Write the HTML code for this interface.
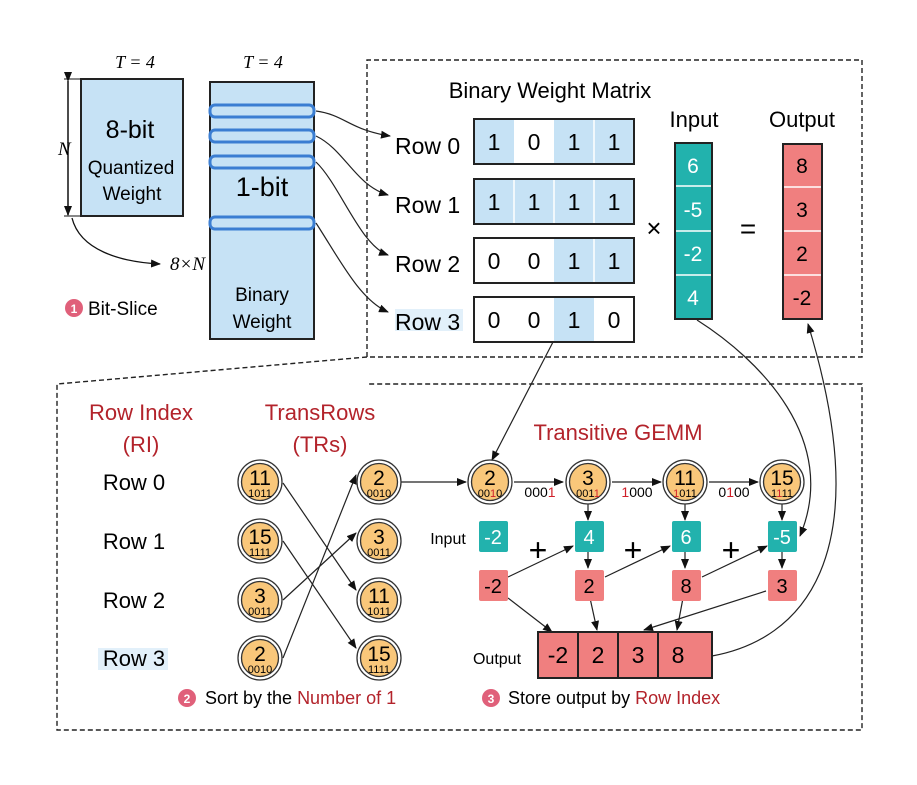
<!DOCTYPE html>
<html><head><meta charset="utf-8"><style>
html,body{margin:0;padding:0;background:#fff}
svg{display:block;font-family:"Liberation Sans",sans-serif}
</style></head><body>
<svg width="917" height="785" viewBox="0 0 917 785" xmlns="http://www.w3.org/2000/svg">
<defs>
<marker id="a" markerWidth="10" markerHeight="8" refX="9" refY="4" orient="auto" markerUnits="userSpaceOnUse"><path d="M0,0 L10,4 L0,8 Z" fill="#111"/></marker>
</defs>
<rect width="917" height="785" fill="#fff"/>
<g fill="none" stroke="#222" stroke-width="1.4" stroke-dasharray="5,3">
<path d="M367,357 L367,60 L862,60 L862,357 L367,357"/>
<path d="M367,357 L57,384 L57,730 L862,730 L862,384 L368,384"/>
</g>
<text x="135" y="68" font-family="Liberation Serif" font-style="italic" font-size="18" text-anchor="middle">T = 4</text>
<text x="263" y="68" font-family="Liberation Serif" font-style="italic" font-size="18" text-anchor="middle">T = 4</text>
<rect x="81" y="79" width="102" height="137" fill="#c6e2f5" stroke="#222" stroke-width="2"/>
<text x="130" y="138" font-size="25" text-anchor="middle">8-bit</text>
<text x="131" y="174" font-size="19" text-anchor="middle">Quantized</text>
<text x="132" y="200" font-size="19" text-anchor="middle">Weight</text>
<line x1="68" y1="81" x2="68" y2="215" stroke="#111" stroke-width="1.5" marker-start="url(#a)" marker-end="url(#a)"/>
<line x1="64" y1="79" x2="80" y2="79" stroke="#111"/><line x1="64" y1="216" x2="80" y2="216" stroke="#111"/>
<text x="58" y="155" font-family="Liberation Serif" font-style="italic" font-size="19">N</text>
<path d="M72,218 C80,250 120,262 160,264" fill="none" stroke="#111" stroke-width="1.3" marker-end="url(#a)"/>
<text x="170" y="270" font-family="Liberation Serif" font-style="italic" font-size="19">8×N</text>
<circle cx="74" cy="308" r="9" fill="#e0607a"/><text x="74" y="313" font-size="12" fill="#fff" text-anchor="middle" font-weight="bold">1</text>
<text x="88" y="315" font-size="19">Bit-Slice</text>
<rect x="210" y="82" width="104" height="257" fill="#c6e2f5" stroke="#222" stroke-width="2"/>
<g fill="none" stroke="#3b7ed2" stroke-width="3">
<rect x="210" y="105" width="104" height="12" rx="5"/>
<rect x="210" y="130" width="104" height="12" rx="5"/>
<rect x="210" y="156" width="104" height="12" rx="5"/>
<rect x="210" y="217" width="104" height="12" rx="5"/>
</g>
<text x="262" y="196" font-size="27" text-anchor="middle">1-bit</text>
<text x="262" y="301" font-size="19" text-anchor="middle">Binary</text>
<text x="262" y="328" font-size="19" text-anchor="middle">Weight</text>
<g fill="none" stroke="#222" stroke-width="1.2" marker-end="url(#a)">
<path d="M316,111 C345,115 350,130 390,136"/>
<path d="M316,136 C345,150 355,185 388,195"/>
<path d="M316,162 C340,185 360,245 388,255"/>
<path d="M316,223 C340,260 360,300 388,312"/>
</g>
<text x="550" y="98" font-size="22" text-anchor="middle">Binary Weight Matrix</text>
<g font-size="23">
<text x="395" y="154">Row 0</text><text x="395" y="213">Row 1</text><text x="395" y="272">Row 2</text>
<rect x="395" y="309" width="68" height="22" fill="#e2f0fa"/><text x="395" y="330">Row 3</text>
</g>
<g fill="#c6e2f5">
<rect x="474" y="119" width="40" height="45"/><rect x="554" y="119" width="80" height="45"/>
<rect x="474" y="179" width="160" height="45"/>
<rect x="554" y="238" width="80" height="45"/>
<rect x="554" y="297" width="40" height="45"/>
</g>
<g stroke="#fff" stroke-width="1.5">
<line x1="514" y1="179" x2="514" y2="224"/><line x1="554" y1="179" x2="554" y2="224"/><line x1="594" y1="179" x2="594" y2="224"/>
<line x1="594" y1="119" x2="594" y2="164"/><line x1="594" y1="238" x2="594" y2="283"/>
</g>
<g fill="none" stroke="#222" stroke-width="2">
<rect x="474" y="119" width="160" height="45"/><rect x="474" y="179" width="160" height="45"/>
<rect x="474" y="238" width="160" height="45"/><rect x="474" y="297" width="160" height="45"/>
</g>
<g font-size="23" text-anchor="middle">
<text x="494" y="150">1</text><text x="534" y="150">0</text><text x="574" y="150">1</text><text x="614" y="150">1</text>
<text x="494" y="210">1</text><text x="534" y="210">1</text><text x="574" y="210">1</text><text x="614" y="210">1</text>
<text x="494" y="269">0</text><text x="534" y="269">0</text><text x="574" y="269">1</text><text x="614" y="269">1</text>
<text x="494" y="328">0</text><text x="534" y="328">0</text><text x="574" y="328">1</text><text x="614" y="328">0</text>
</g>
<text x="654" y="237" font-size="26" text-anchor="middle">×</text>
<text x="748" y="238" font-size="28" text-anchor="middle">=</text>
<text x="694" y="127" font-size="22" text-anchor="middle">Input</text>
<text x="802" y="127" font-size="22" text-anchor="middle">Output</text>
<rect x="675" y="143" width="37" height="176" fill="#22b2ad" stroke="#222" stroke-width="2"/>
<g stroke="#fff" stroke-width="1.5"><line x1="676" y1="186" x2="711" y2="186"/><line x1="676" y1="231" x2="711" y2="231"/><line x1="676" y1="275" x2="711" y2="275"/></g>
<g font-size="21" fill="#fff" text-anchor="middle"><text x="693" y="173">6</text><text x="693" y="217">-5</text><text x="693" y="261">-2</text><text x="693" y="305">4</text></g>
<rect x="783" y="144" width="39" height="175" fill="#f07f7f" stroke="#222" stroke-width="2"/>
<g stroke="#fff" stroke-width="1.5"><line x1="784" y1="187" x2="821" y2="187"/><line x1="784" y1="231" x2="821" y2="231"/><line x1="784" y1="275" x2="821" y2="275"/></g>
<g font-size="21" text-anchor="middle"><text x="802" y="173">8</text><text x="802" y="217">3</text><text x="802" y="261">2</text><text x="802" y="305">-2</text></g>
<g fill="#b3232b" font-size="22" text-anchor="middle">
<text x="141" y="420">Row Index</text><text x="141" y="452">(RI)</text>
<text x="320" y="420">TransRows</text><text x="320" y="452">(TRs)</text>
<text x="618" y="440">Transitive GEMM</text>
</g>
<g font-size="22" text-anchor="middle">
<text x="134" y="490">Row 0</text><text x="134" y="549">Row 1</text><text x="134" y="608">Row 2</text>
<rect x="98" y="648" width="70" height="22" fill="#e2f0fa"/><text x="134" y="666">Row 3</text>
</g>
<g fill="none" stroke="#222" stroke-width="1.2" marker-end="url(#a)">
<line x1="283" y1="483" x2="356" y2="590"/>
<line x1="283" y1="541" x2="356" y2="648"/>
<line x1="283" y1="600" x2="356" y2="533"/>
<line x1="283" y1="658" x2="356" y2="475"/>
<line x1="401" y1="482" x2="466" y2="482"/>
<line x1="514" y1="482" x2="563" y2="482"/>
<line x1="612" y1="482" x2="661" y2="482"/>
<line x1="709" y1="482" x2="758" y2="482"/>
<line x1="588" y1="504" x2="588" y2="520"/><line x1="685" y1="504" x2="685" y2="520"/><line x1="782" y1="504" x2="782" y2="520"/>
<line x1="588" y1="552" x2="588" y2="568"/><line x1="685" y1="552" x2="685" y2="568"/><line x1="782" y1="552" x2="782" y2="568"/>
<line x1="508" y1="577" x2="573" y2="546"/><line x1="605" y1="577" x2="670" y2="546"/><line x1="702" y1="577" x2="767" y2="546"/>
<line x1="508" y1="598" x2="552" y2="632"/><line x1="590" y1="598" x2="597" y2="630"/><line x1="683" y1="598" x2="677" y2="630"/><line x1="766" y1="591" x2="644" y2="630"/>
<path d="M553,342 L492,460"/>
<path d="M697,320 C760,360 840,440 800,536"/>
<path d="M712,656 C800,640 880,560 808,324"/>
</g>
<g font-family="Liberation Sans" text-anchor="middle">
<g transform="translate(260,482)"><circle r="22" fill="#fff" stroke="#333" stroke-width="1.3"/><circle r="18.5" fill="#f9c77a" stroke="#333" stroke-width="1.3"/><text y="3" font-size="21">11</text><text y="15" font-size="11">1011</text></g>
<g transform="translate(260,541)"><circle r="22" fill="#fff" stroke="#333" stroke-width="1.3"/><circle r="18.5" fill="#f9c77a" stroke="#333" stroke-width="1.3"/><text y="3" font-size="21">15</text><text y="15" font-size="11">1111</text></g>
<g transform="translate(260,600)"><circle r="22" fill="#fff" stroke="#333" stroke-width="1.3"/><circle r="18.5" fill="#f9c77a" stroke="#333" stroke-width="1.3"/><text y="3" font-size="21">3</text><text y="15" font-size="11">0011</text></g>
<g transform="translate(260,658)"><circle r="22" fill="#fff" stroke="#333" stroke-width="1.3"/><circle r="18.5" fill="#f9c77a" stroke="#333" stroke-width="1.3"/><text y="3" font-size="21">2</text><text y="15" font-size="11">0010</text></g>
<g transform="translate(379,482)"><circle r="22" fill="#fff" stroke="#333" stroke-width="1.3"/><circle r="18.5" fill="#f9c77a" stroke="#333" stroke-width="1.3"/><text y="3" font-size="21">2</text><text y="15" font-size="11">0010</text></g>
<g transform="translate(379,541)"><circle r="22" fill="#fff" stroke="#333" stroke-width="1.3"/><circle r="18.5" fill="#f9c77a" stroke="#333" stroke-width="1.3"/><text y="3" font-size="21">3</text><text y="15" font-size="11">0011</text></g>
<g transform="translate(379,600)"><circle r="22" fill="#fff" stroke="#333" stroke-width="1.3"/><circle r="18.5" fill="#f9c77a" stroke="#333" stroke-width="1.3"/><text y="3" font-size="21">11</text><text y="15" font-size="11">1011</text></g>
<g transform="translate(379,658)"><circle r="22" fill="#fff" stroke="#333" stroke-width="1.3"/><circle r="18.5" fill="#f9c77a" stroke="#333" stroke-width="1.3"/><text y="3" font-size="21">15</text><text y="15" font-size="11">1111</text></g>
<g transform="translate(490,482)"><circle r="22" fill="#fff" stroke="#333" stroke-width="1.3"/><circle r="18.5" fill="#f9c77a" stroke="#333" stroke-width="1.3"/><text y="3" font-size="21">2</text><text y="15" font-size="11">00<tspan fill="#d0202a">1</tspan>0</text></g>
<g transform="translate(588,482)"><circle r="22" fill="#fff" stroke="#333" stroke-width="1.3"/><circle r="18.5" fill="#f9c77a" stroke="#333" stroke-width="1.3"/><text y="3" font-size="21">3</text><text y="15" font-size="11">001<tspan fill="#d0202a">1</tspan></text></g>
<g transform="translate(685,482)"><circle r="22" fill="#fff" stroke="#333" stroke-width="1.3"/><circle r="18.5" fill="#f9c77a" stroke="#333" stroke-width="1.3"/><text y="3" font-size="21">11</text><text y="15" font-size="11"><tspan fill="#d0202a">1</tspan>011</text></g>
<g transform="translate(782,482)"><circle r="22" fill="#fff" stroke="#333" stroke-width="1.3"/><circle r="18.5" fill="#f9c77a" stroke="#333" stroke-width="1.3"/><text y="3" font-size="21">15</text><text y="15" font-size="11">1<tspan fill="#d0202a">1</tspan>11</text></g>
</g>
<g font-size="14" text-anchor="middle">
<text x="540" y="497">000<tspan fill="#d0202a">1</tspan></text>
<text x="637" y="497"><tspan fill="#d0202a">1</tspan>000</text>
<text x="734" y="497">0<tspan fill="#d0202a">1</tspan>00</text>
</g>
<text x="448" y="544" font-size="16" text-anchor="middle">Input</text>
<g fill="#22b2ad"><rect x="479" y="521" width="29" height="31" rx="2"/><rect x="575" y="521" width="29" height="31" rx="2"/><rect x="672" y="521" width="29" height="31" rx="2"/><rect x="768" y="521" width="29" height="31" rx="2"/></g>
<g fill="#fff" font-size="20" text-anchor="middle"><text x="493" y="544">-2</text><text x="589" y="544">4</text><text x="686" y="544">6</text><text x="782" y="544">-5</text></g>
<g fill="#f07f7f"><rect x="479" y="570" width="29" height="31" rx="2"/><rect x="575" y="570" width="29" height="31" rx="2"/><rect x="672" y="570" width="29" height="31" rx="2"/><rect x="768" y="570" width="29" height="31" rx="2"/></g>
<g font-size="20" text-anchor="middle"><text x="493" y="593">-2</text><text x="589" y="593">2</text><text x="686" y="593">8</text><text x="782" y="593">3</text></g>
<g font-size="32" text-anchor="middle"><text x="538" y="561">+</text><text x="633" y="561">+</text><text x="731" y="561">+</text></g>
<text x="497" y="664" font-size="16" text-anchor="middle">Output</text>
<rect x="538" y="632" width="174" height="46" fill="#f07f7f" stroke="#222" stroke-width="2"/>
<g stroke="#222" stroke-width="2"><line x1="578" y1="632" x2="578" y2="678"/><line x1="618" y1="632" x2="618" y2="678"/><line x1="658" y1="632" x2="658" y2="678"/></g>
<g font-size="23" text-anchor="middle"><text x="558" y="663">-2</text><text x="598" y="663">2</text><text x="638" y="663">3</text><text x="678" y="663">8</text></g>
<circle cx="187" cy="698" r="9" fill="#e0607a"/><text x="187" y="703" font-size="12" fill="#fff" text-anchor="middle" font-weight="bold">2</text>
<text x="205" y="704" font-size="18">Sort by the <tspan fill="#b3232b">Number of 1</tspan></text>
<circle cx="491" cy="698" r="9" fill="#e0607a"/><text x="491" y="703" font-size="12" fill="#fff" text-anchor="middle" font-weight="bold">3</text>
<text x="508" y="704" font-size="18">Store output by <tspan fill="#b3232b">Row Index</tspan></text>
</svg>
</body></html>
